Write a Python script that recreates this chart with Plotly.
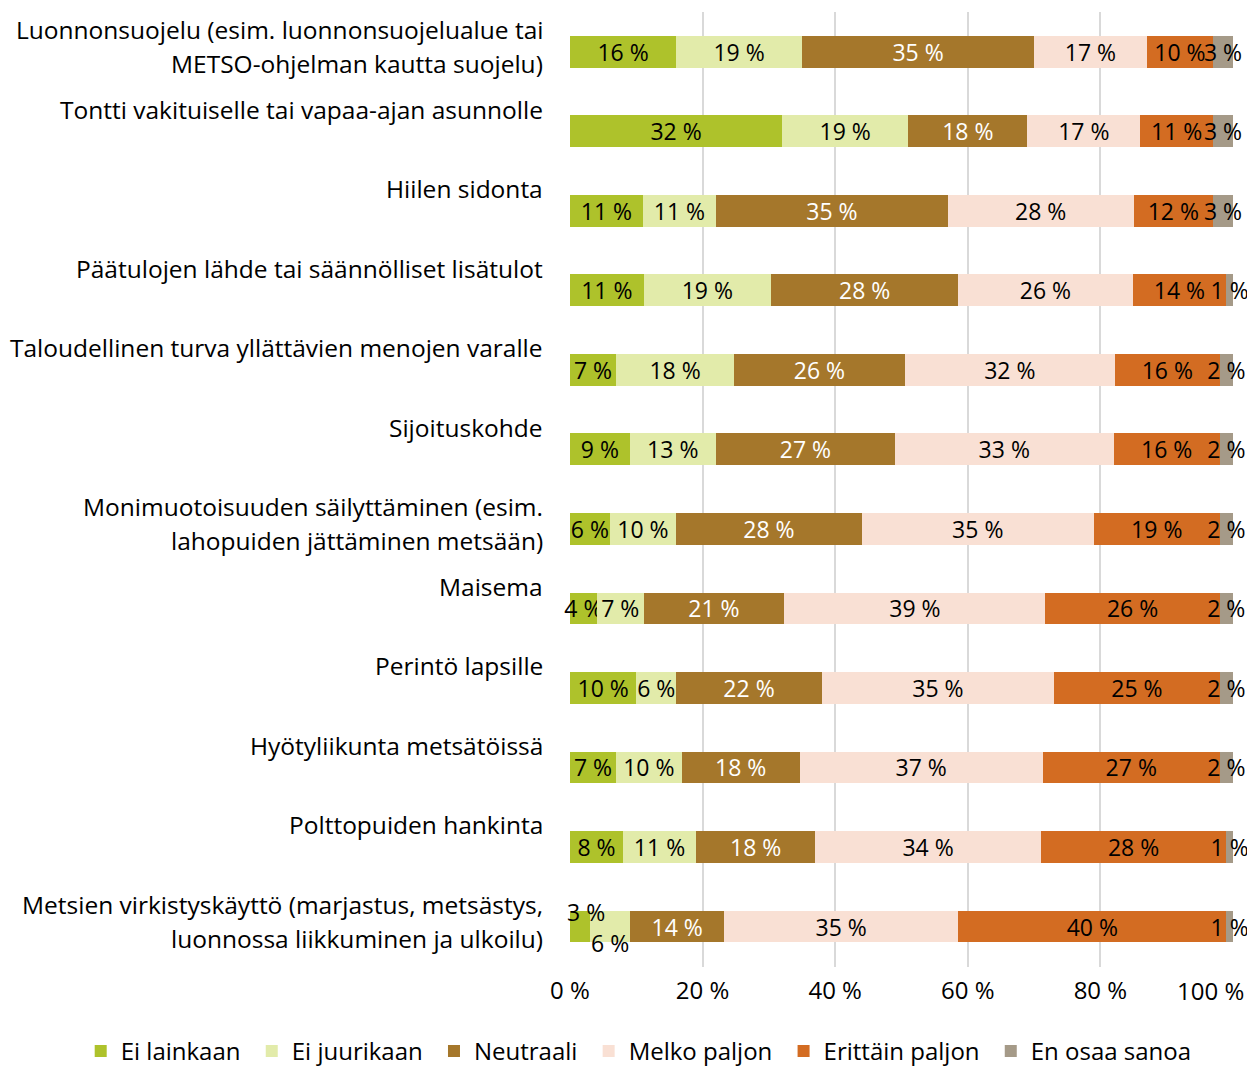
import plotly.graph_objects as go

categories = [
    "Luonnonsuojelu (esim. luonnonsuojelualue tai\nMETSO-ohjelman kautta suojelu)",
    "Tontti vakituiselle tai vapaa-ajan asunnolle",
    "Hiilen sidonta",
    "Päätulojen lähde tai säännölliset lisätulot",
    "Taloudellinen turva yllättävien menojen varalle",
    "Sijoituskohde",
    "Monimuotoisuuden säilyttäminen (esim.\nlahopuiden jättäminen metsään)",
    "Maisema",
    "Perintö lapsille",
    "Hyötyliikunta metsätöissä",
    "Polttopuiden hankinta",
    "Metsien virkistyskäyttö (marjastus, metsästys,\nluonnossa liikkuminen ja ulkoilu)",
]

ei_lainkaan = [16, 32, 11, 11, 7, 9, 6, 4, 10, 7, 8, 3]
ei_juurikaan = [19, 19, 11, 19, 18, 13, 10, 7, 6, 10, 11, 6]
neutraali = [35, 18, 35, 28, 26, 27, 28, 21, 22, 18, 18, 14]
melko_paljon = [17, 17, 28, 26, 32, 33, 35, 39, 35, 37, 34, 35]
erittain_paljon = [10, 11, 12, 14, 16, 16, 19, 26, 25, 27, 28, 40]
en_osaa = [3, 3, 3, 1, 2, 2, 2, 2, 2, 2, 1, 1]

tick_vals = [0, 20, 40, 60, 80, 100]
tick_text = ["0 %", "20 %", "40 %", "60 %", "80 %", "100 %"]

series = [
    ("Ei lainkaan", ei_lainkaan, "#AEC22B", "black"),
    ("Ei juurikaan", ei_juurikaan, "#E2EBAA", "black"),
    ("Neutraali", neutraali, "#A5772B", "white"),
    ("Melko paljon", melko_paljon, "#F9E0D4", "black"),
    ("Erittäin paljon", erittain_paljon, "#D36C22", "black"),
    ("En osaa sanoa", en_osaa, "#A59A88", "black"),
]

FONT = "Open Sans"
LABEL_SIZE = 23
keys = list(range(len(categories)))
last = len(categories) - 1

fig = go.Figure()
for name, vals, color, tcolor in series:
    texts = [f"{v} %" for v in vals]
    # the two smallest labels in the last row are moved off the bar by hand
    if name in ("Ei lainkaan", "Ei juurikaan"):
        texts[last] = ""
    fig.add_trace(go.Bar(
        y=keys, x=vals, name=name + "\u00a0", orientation="h",
        marker=dict(color=color, line=dict(width=0)),
        text=texts, textposition="inside", insidetextanchor="middle",
        textangle=0, textfont=dict(family=FONT, size=LABEL_SIZE, color=tcolor),
        cliponaxis=False, hoverinfo="skip",
    ))

annotations = []
for i, cat in enumerate(categories):
    for j, line in enumerate(cat.split("\n")):
        annotations.append(dict(
            text=line, xref="paper", x=0, xanchor="right", xshift=-25,
            yref="y", y=i, yanchor="middle", yshift=22 - 34 * j,
            showarrow=False, font=dict(family=FONT, size=24.5, color="black"),
        ))

# moved labels for the last row
annotations.append(dict(
    text=f"{ei_lainkaan[last]} %", xref="x", x=ei_lainkaan[last] / 2, xshift=6,
    yref="y", y=last, yshift=15, showarrow=False,
    font=dict(family=FONT, size=LABEL_SIZE, color="black"),
))
annotations.append(dict(
    text=f"{ei_juurikaan[last]} %", xref="x",
    x=ei_lainkaan[last] + ei_juurikaan[last] / 2,
    yref="y", y=last, yshift=-16, showarrow=False,
    font=dict(family=FONT, size=LABEL_SIZE, color="black"),
))
# last tick label is kept inside the page, right-aligned
annotations.append(dict(
    text=tick_text[-1], xref="x", x=tick_vals[-1], xanchor="right", xshift=13,
    yref="paper", y=0, yanchor="middle", yshift=-23, showarrow=False,
    font=dict(family=FONT, size=24, color="black"),
))

# the page body has an 8 px margin, so the figure is 8 px smaller
fig.update_layout(
    template="none",
    width=1247, height=1062,
    margin=dict(l=562, r=22, t=4, b=103, autoexpand=False),
    barmode="stack", barnorm="percent", bargap=0.6,
    plot_bgcolor="white", paper_bgcolor="white",
    font=dict(family=FONT, size=24, color="black"),
    uniformtext=dict(minsize=LABEL_SIZE, mode="show"),
    showlegend=True,
    legend=dict(
        orientation="h", xref="paper", x=-0.738, xanchor="left",
        yref="paper", y=-0.112, yanchor="bottom",
        font=dict(family=FONT, size=24), traceorder="normal",
        bgcolor="rgba(0,0,0,0)",
    ),
    annotations=annotations,
)
fig.update_xaxes(
    range=[0, 100], tickvals=tick_vals, ticktext=tick_text[:-1] + [""],
    showgrid=True, gridcolor="#D9D9D9", gridwidth=1.5,
    zeroline=False, showline=False, ticks="", automargin=False,
    ticklabelstandoff=7, tickfont=dict(size=24),
)
fig.update_yaxes(
    autorange="reversed", showticklabels=False, showgrid=False,
    zeroline=False, showline=False, ticks="", automargin=False,
)

fig.write_html("out.html")
